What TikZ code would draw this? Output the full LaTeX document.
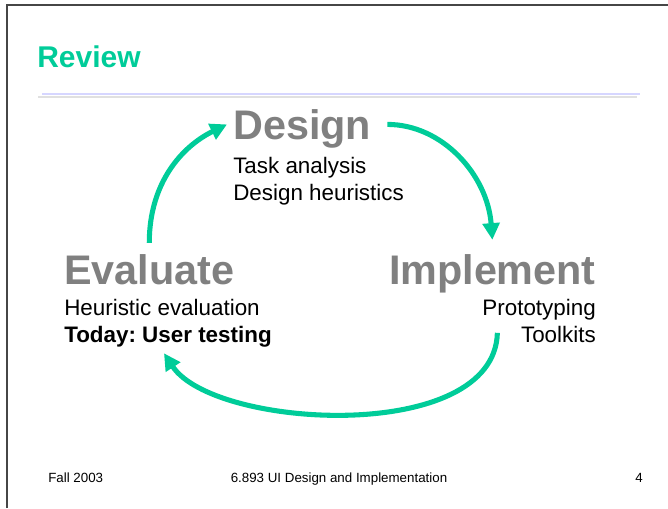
\documentclass[tikz,border=0pt]{standalone}
\usepackage{fontspec}
\setmainfont{Liberation Sans}
\usetikzlibrary{arrows.meta,positioning,calc}

\definecolor{cyclegreen}{RGB}{0,204,153}
\definecolor{phasegray}{RGB}{128,128,128}
\definecolor{rulelav}{RGB}{214,214,255}
\definecolor{framegray}{RGB}{70,70,70}

\begin{document}
\begin{tikzpicture}[x=0.75pt,y=-0.75pt,>={Triangle[length=12.5pt,width=12.5pt]},
    phase/.style={font=\fontsize{31}{31}\selectfont\bfseries,text=phasegray,inner sep=0pt},
    notes/.style={font=\fontsize{16.8}{19.9}\selectfont\frenchspacing,inner sep=0pt},
    cycle/.style={->,draw=cyclegreen,line width=3.8pt},
    foot/.style={font=\fontsize{10}{12}\selectfont,inner sep=0pt}]
    \useasboundingbox (0,0) rectangle (668,508);

    % slide frame and title
    \draw[framegray,line width=1.1pt] (7,508) -- (7,5) -- (668,5);
    \node[anchor=base west,font=\fontsize{22.5}{23}\selectfont\bfseries,text=cyclegreen,inner sep=0pt] (review) at (37,67) {Review};
    \draw[black!12,line width=2.2pt] (38,97) -- (637,97);
    \draw[rulelav,line width=1.5pt] (42,94) -- (640,94);

    % the three phases
    \node[phase,anchor=base west] (design) at (233,139) {Design};
    \node[notes,align=left,below right=13.6pt and 0pt of design.base west] (designnotes) {Task analysis\\Design heuristics};

    \node[phase,anchor=base east] (implement) at (596,284) {Implement};
    \node[notes,align=right,below left=11.4pt and 0pt of implement.base east] (implnotes) {Prototyping\\Toolkits};

    \node[phase,anchor=base west] (evaluate) at (64,284) {Evaluate};
    \node[notes,align=left,below right=11.4pt and 0pt of evaluate.base west] (evalnotes) {Heuristic evaluation\\\textbf{Today: User testing}};

    % cycle arrows
    \draw[cycle] ($(evaluate.north)+(0,-11)$) .. controls +(0,-60) and +(-45,22) .. ($(design.west)+(-6,-4)$);
    \draw[cycle] ($(design.east)+(16,-4)$) .. controls +(55,0) and +(-5,-65) .. ($(implement.north)+(0,-14)$);
    \draw[cycle] ($(implement.south)+(5,40)$) .. controls +(-3,112) and +(50,76) .. ($(evalnotes.south)+(-4,6)$);

    % footer
    \node[foot,anchor=base west] (term) at (48,482) {Fall 2003};
    \node[foot,anchor=base] (course) at (339,482) {6.893 UI Design and Implementation};
    \node[foot,anchor=base] (page) at (639,482) {4};
\end{tikzpicture}
\end{document}
